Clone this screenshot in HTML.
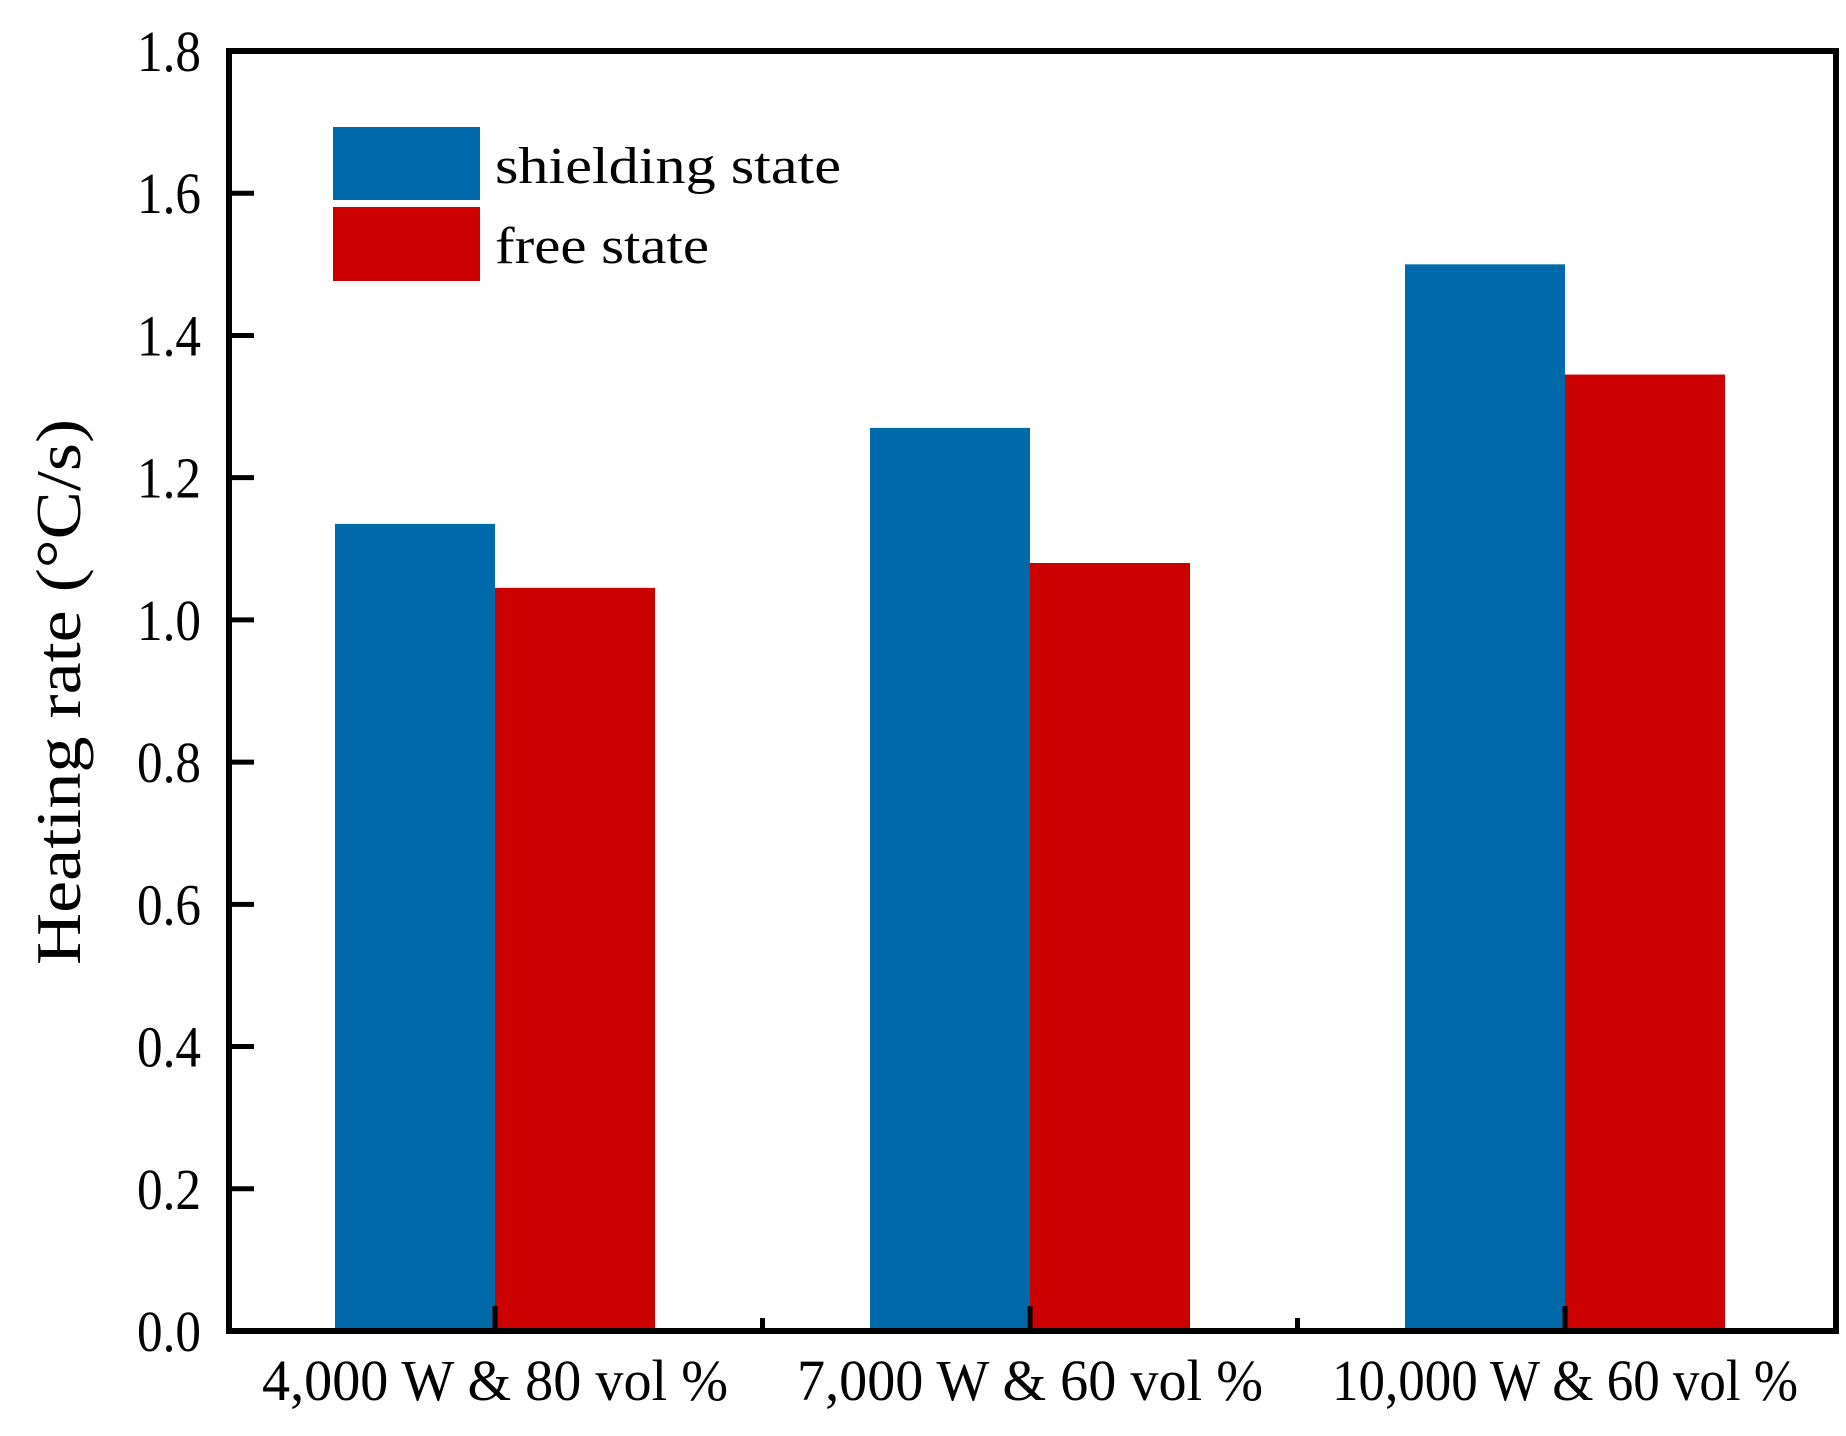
<!DOCTYPE html>
<html><head><meta charset="utf-8"><style>
html,body{margin:0;padding:0;background:#fff;}
svg{display:block;font-family:"Liberation Serif",serif;}
</style></head><body>
<svg id="chart" width="1846" height="1436" viewBox="0 0 1846 1436">
<g id="bars"></g>
<g id="axes"></g>
<rect x="229" y="51" width="1607" height="1280" fill="none" stroke="#000" stroke-width="6"/>
<g>
  <rect x="333" y="127" width="147" height="73" fill="#0069AA"/>
  <text x="495" y="183" font-size="52" textLength="346" lengthAdjust="spacingAndGlyphs">shielding state</text>
  <rect x="333" y="207" width="147" height="74" fill="#CC0000"/>
  <text x="495" y="263" font-size="52" textLength="214" lengthAdjust="spacingAndGlyphs">free state</text>
</g>
<text transform="translate(80,692) rotate(-90)" text-anchor="middle" font-size="64" textLength="546" lengthAdjust="spacingAndGlyphs">Heating rate (°C/s)</text>
</svg>
<script>
const categories = ["4,000 W & 80 vol %", "7,000 W & 60 vol %", "10,000 W & 60 vol %"];
const shielding = [1.135, 1.27, 1.5];
const freeState = [1.045, 1.08, 1.345];
const yTicks = [0, 0.2, 0.4, 0.6, 0.8, 1.0, 1.2, 1.4, 1.6, 1.8];
const yTickLabels = ["0.0","0.2","0.4","0.6","0.8","1.0","1.2","1.4","1.6","1.8"];

const NS = "http://www.w3.org/2000/svg";
const x0 = 229, x1 = 1836, yTop = 51, yBot = 1331, yMax = 1.8;
const y = v => yBot - v / yMax * (yBot - yTop);
const groupW = 535, firstCenter = 495, barW = 160;
const cx = i => firstCenter + i * groupW;
const bars = document.getElementById('bars');
const axes = document.getElementById('axes');
function mk(tag, attrs, parent){const e=document.createElementNS(NS,tag);for(const k in attrs)e.setAttribute(k,attrs[k]);parent.appendChild(e);return e;}

categories.forEach((c, i) => {
  const b = mk('rect', {x: cx(i) - barW, y: y(shielding[i]), width: barW, height: yBot - y(shielding[i]), fill: '#0069AA'}, bars);
  
  
  const r = mk('rect', {x: cx(i), y: y(freeState[i]), width: barW, height: yBot - y(freeState[i]), fill: '#CC0000'}, bars);
  
  
  const t = mk('line', {x1: cx(i), x2: cx(i), y1: yBot, y2: yBot - 25, stroke: '#000', 'stroke-width': 5}, axes);
  
  
  const l = mk('text', {x: cx(i), y: 1400, 'text-anchor': 'middle', 'font-size': 58, textLength: 466, lengthAdjust: 'spacingAndGlyphs'}, axes);
  l.textContent = c;
  
  
  if (i < categories.length - 1) {
    const m = mk('line', {x1: cx(i) + groupW/2, x2: cx(i) + groupW/2, y1: yBot, y2: yBot - 13, stroke: '#000', 'stroke-width': 5}, axes);
    
    
  }
});
yTicks.forEach((v, i) => {
  const t = mk('line', {x1: x0, x2: x0 + 25, y1: y(v), y2: y(v), stroke: '#000', 'stroke-width': 5}, axes);
  
  
  const l = mk('text', {x: 201, y: y(v) + 20, 'text-anchor': 'end', 'font-size': 58, textLength: 64, lengthAdjust: 'spacingAndGlyphs'}, axes);
  l.textContent = yTickLabels[i];
  
  
});
</script>
</body></html>
